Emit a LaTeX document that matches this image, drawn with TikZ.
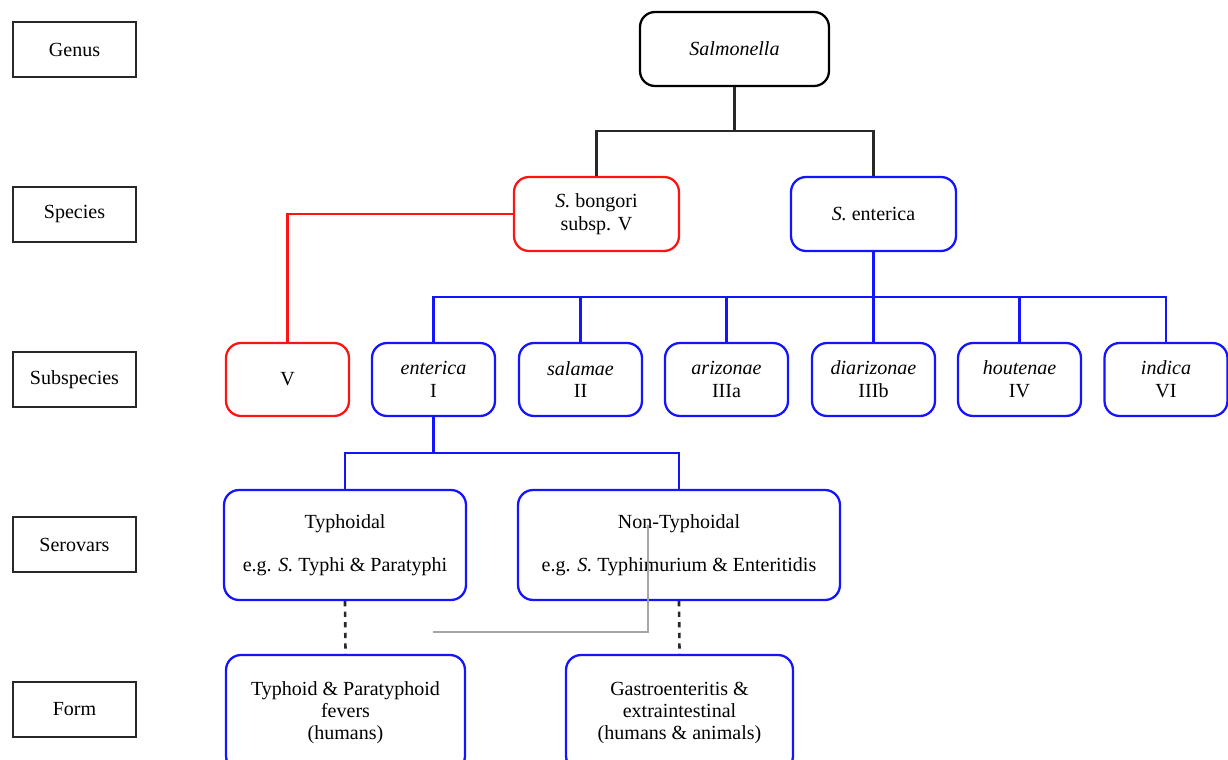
\documentclass[tikz,border=0pt]{standalone}
\usepackage{fontspec}
\setmainfont{Liberation Serif}
\usepackage{tikz}
\usetikzlibrary{positioning}
\usepackage{xcolor}
\definecolor{boxblue}{RGB}{20,20,255}
\definecolor{boxred}{RGB}{255,20,20}
\definecolor{rankgray}{RGB}{40,40,40}

\begin{document}
\begin{tikzpicture}[x=0.02cm,y=-0.02cm,
    rank/.style={draw=rankgray,line width=1.3pt,minimum width=2.46cm,minimum height=1.1cm,
        inner sep=0pt,font=\fontsize{11.4}{13}\selectfont},
    taxon/.style={draw,rounded corners=0.3cm,line width=1.3pt,inner sep=0pt,align=center,
        font=\fontsize{11.4}{13}\selectfont},
    sub/.style={taxon,draw=boxblue,minimum width=2.46cm,minimum height=1.46cm},
    lower/.style={taxon,draw=boxblue,font=\fontsize{11.4}{12.5}\selectfont},
    link/.style={line width=1.5pt}]
                \clip (0,0) rectangle (1228,760);
                % ranks on the left
                \node[rank] (genus) at (74.5,49.5) {Genus};
                \node[rank] (species) at (74.5,214.5) {Species};
                \node[rank] (subspecies) at (74.5,379.5) {Subspecies};
                \node[rank] (serovars) at (74.5,544.5) {Serovars};
                \node[rank] (form) at (74.5,709.5) {Form};
                % genus and species
                \node[taxon,minimum width=3.78cm,minimum height=1.48cm] (salm) at (734.5,49) {\textit{Salmonella}};
                \node[taxon,draw=boxred,minimum width=3.3cm,minimum height=1.48cm] (bong) at (596.5,214) {\textit{S.} bongori\\subsp. V};
                \node[taxon,draw=boxblue,minimum width=3.3cm,minimum height=1.48cm] (ent) at (873.5,214) {\textit{S.} enterica};
                % subspecies
                \node[sub,draw=boxred] (sV) at (287.5,379.5) {V};
                \node[sub] (sI) at (433.5,379.5) {\textit{enterica}\\I};
                \node[sub] (sII) at (580.5,379.5) {\textit{salamae}\\II};
                \node[sub] (sIIIa) at (726.5,379.5) {\textit{arizonae}\\IIIa};
                \node[sub] (sIIIb) at (873.5,379.5) {\textit{diarizonae}\\IIIb};
                \node[sub] (sIV) at (1019.5,379.5) {\textit{houtenae}\\IV};
                \node[sub] (sVI) at (1166,379.5) {\textit{indica}\\VI};
                % serovars and forms
                \node[lower,minimum width=4.84cm,minimum height=2.2cm] (typh) at (345,545) {Typhoidal\\[11.8pt]e.g. \textit{S.} Typhi \& Paratyphi};
                \node[lower,minimum width=6.44cm,minimum height=2.2cm] (ntyph) at (679,545) {Non-Typhoidal\\[11.8pt]e.g. \textit{S.} Typhimurium \& Enteritidis};
                \node[lower,minimum width=4.78cm,minimum height=2.32cm] (tform) at (345.5,713) {Typhoid \& Paratyphoid\\fevers\\(humans)};
                \node[lower,minimum width=4.54cm,minimum height=2.32cm] (ntform) at (679.5,713) {Gastroenteritis \&\\extraintestinal\\(humans \& animals)};
                % junctions
                \coordinate (sj) at (734.5,131);
                \coordinate (ej) at (873.5,297);
                \coordinate (ij) at (433.5,453);
                % connectors
                \draw[link,rankgray] (salm.south) -- (sj);
                \draw[link,rankgray] (bong.north) |- (sj) -| (ent.north);
                \draw[link,boxred] (bong.west) -| (sV.north);
                \draw[link,boxblue] (ent.south) -- (ej);
                \foreach \n in {sI,sII,sIIIa,sIIIb,sIV,sVI}
                    \draw[link,boxblue] (\n.north) |- (ej);
                \draw[link,boxblue] (sI.south) -- (ij);
                \draw[link,boxblue] (typh.north) |- (ij) -| (ntyph.north);
                \draw[link,dashed,rankgray] (typh.south) -- (tform.north);
                \draw[link,dashed,rankgray] (ntyph.south) -- (ntform.north);
                % stray grey line
                \draw[line width=1.3pt,gray!70] (433,632) -| (648,525);
            \end{tikzpicture}
\end{document}
